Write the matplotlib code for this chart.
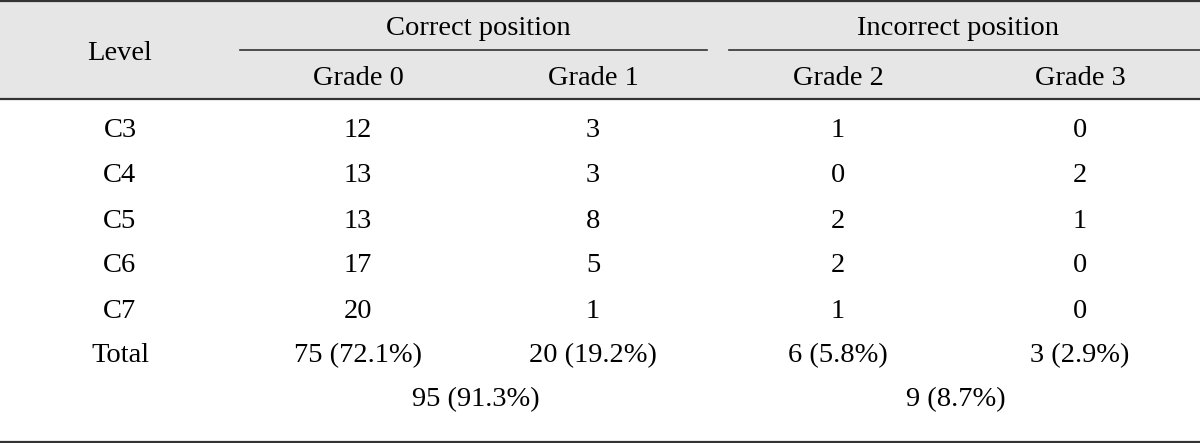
import matplotlib.pyplot as plt
from matplotlib.patches import Rectangle

plt.rcParams['font.family'] = ['Liberation Serif', 'DejaVu Serif']

levels = ['C3', 'C4', 'C5', 'C6', 'C7', 'Total']
grade0 = ['12', '13', '13', '17', '20', '75 (72.1%)']
grade1 = ['3', '3', '8', '5', '1', '20 (19.2%)']
grade2 = ['1', '0', '2', '2', '1', '6 (5.8%)']
grade3 = ['0', '2', '1', '0', '0', '3 (2.9%)']
group_names = ['Correct position', 'Incorrect position']
grade_names = ['Grade 0', 'Grade 1', 'Grade 2', 'Grade 3']
group_totals = ['95 (91.3%)', '9 (8.7%)']

W, H = 1200, 443
fig = plt.figure(figsize=(W / 100, H / 100), dpi=100)
ax = fig.add_axes([0, 0, 1, 1])
ax.set_xlim(0, W)
ax.set_ylim(H, 0)
ax.axis('off')

fs = 20.5
va = 'center_baseline'
col_x = [120, 358, 593, 838, 1080]
row_y = [127, 172, 218, 263, 308, 353]

# header background
ax.add_patch(Rectangle((0, 1), W, 98, facecolor='#e6e6e6', edgecolor='none', zorder=0))
ax.plot([0, W], [1, 1], color='#333333', lw=1.6)
ax.plot([0, W], [99, 99], color='#333333', lw=1.6)
ax.plot([0, W], [441.5, 441.5], color='#333333', lw=1.6)
ax.plot([240, 707], [49.5, 49.5], color='#333333', lw=1.2)
ax.plot([729, W], [49.5, 49.5], color='#333333', lw=1.2)

ax.text(col_x[0], 50, 'Level', fontsize=fs, ha='center', va=va)
ax.text(478, 25, group_names[0], fontsize=fs, ha='center', va=va)
ax.text(958, 25, group_names[1], fontsize=fs, ha='center', va=va)
for x, g in zip(col_x[1:], grade_names):
    ax.text(x, 75, g, fontsize=fs, ha='center', va=va)

for i, y in enumerate(row_y):
    vals = [levels[i], grade0[i], grade1[i], grade2[i], grade3[i]]
    for x, v in zip(col_x, vals):
        ax.text(x, y, v, fontsize=fs, ha='center', va=va)

ax.text(476, 397, group_totals[0], fontsize=fs, ha='center', va=va)
ax.text(956, 397, group_totals[1], fontsize=fs, ha='center', va=va)

fig.savefig('out.png', dpi=100)
